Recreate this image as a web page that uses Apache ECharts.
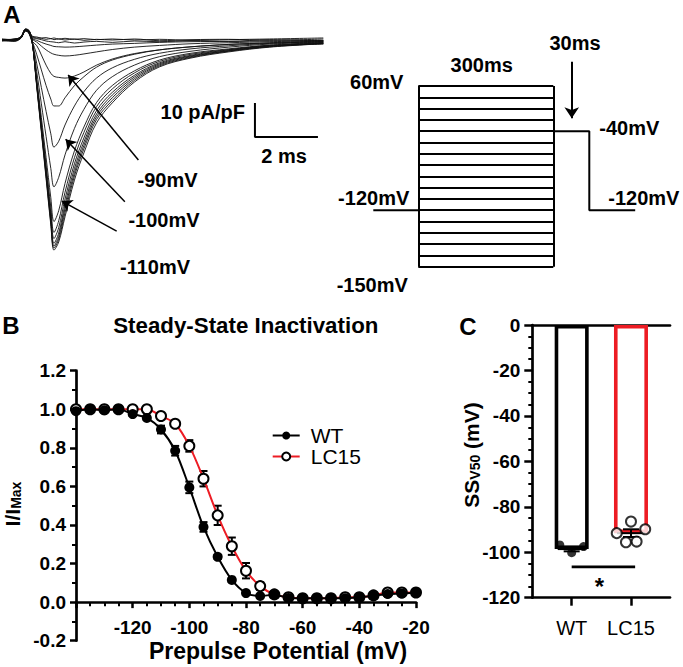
<!DOCTYPE html>
<html><head><meta charset="utf-8">
<script src="https://cdn.jsdelivr.net/npm/echarts@6/dist/echarts.min.js"></script>
<style>html,body{margin:0;padding:0;background:#fff}#c{width:683px;height:667px}</style>
</head><body><div id="c"></div><script>
// ---------- Panel A: current traces (pA/pF vs ms) ----------
const traceTimeMs = [0, 0.4, 0.6, 0.75, 0.85, 0.95, 1.1, 1.25, 1.4, 1.55, 1.65, 1.8, 2.0, 2.3, 2.6, 3.0, 3.5, 4.2, 5.0, 6.0, 7.2, 8.5, 10.2];
const trace01 = [0.2, -0.3, 0.9, 3.2, 2.9, 0.3, -13.6, -27.2, -40.8, -54.4, -61.8, -59.4, -52.0, -41.2, -33.2, -24.4, -18.5, -12.4, -7.9, -5.3, -3.5, -2.1, -1.1];
const trace02 = [0.0, 0.1, 0.8, 3.0, 2.7, 0.2, -13.2, -26.6, -40.2, -53.8, -61.2, -58.6, -50.8, -40.0, -32.0, -23.4, -17.8, -11.9, -7.6, -5.1, -3.3, -2.0, -1.0];
const trace03 = [-0.2, 0.3, 0.7, 3.1, 2.6, 0.1, -13.0, -26.3, -39.6, -53.0, -60.6, -57.8, -49.6, -39.0, -31.0, -22.6, -17.0, -11.4, -7.3, -4.9, -3.2, -1.9, -0.9];
const trace04 = [0.3, 0.1, 0.9, 2.9, 2.8, 0.0, -12.8, -25.9, -39.0, -52.2, -59.8, -56.8, -48.4, -37.8, -30.0, -21.8, -16.2, -10.9, -7.0, -4.7, -3.1, -1.8, -1.2];
const trace05 = [0.0, -0.2, 0.6, 3.0, 2.5, -0.1, -12.4, -25.2, -38.0, -50.9, -58.4, -55.2, -46.8, -36.4, -28.8, -20.8, -15.4, -10.4, -6.7, -4.5, -2.9, -1.7, -0.8];
const trace06 = [0.1, 0.2, 0.8, 3.1, 2.6, 0.0, -12.0, -24.4, -36.8, -49.2, -56.6, -53.2, -44.8, -34.6, -27.2, -19.6, -14.4, -9.7, -6.3, -4.2, -2.8, -1.6, -1.0];
const trace07 = [-0.1, -0.1, 0.7, 2.8, 2.4, -0.2, -11.2, -22.8, -34.6, -46.4, -53.4, -50.2, -42.2, -32.6, -25.6, -18.4, -13.4, -9.1, -5.9, -3.9, -2.6, -1.5, -0.7];
const trace08 = [0.2, 0.1, 0.8, 3.0, 2.2, -0.3, -9.2, -18.8, -28.4, -37.8, -43.2, -40.4, -33.8, -26.0, -20.4, -14.8, -10.8, -7.4, -4.9, -3.3, -2.1, -1.2, -0.6];
const trace09 = [0.0, 0.0, 0.6, 2.9, 2.3, -0.2, -6.8, -14.0, -21.0, -27.6, -31.5, -29.8, -25.0, -19.4, -15.2, -11.2, -8.2, -5.7, -3.9, -2.6, -1.7, -1.0, -0.5];
const trace10 = [0.1, 0.2, 0.8, 2.7, 2.1, -0.1, -4.2, -8.8, -13.4, -17.4, -19.4, -19.4, -17.0, -13.4, -10.8, -8.0, -5.9, -4.2, -2.9, -2.0, -1.3, -0.8, -0.3];
const trace11 = [0.0, -0.1, 0.7, 2.8, 2.0, -0.3, -1.6, -4.4, -7.4, -9.8, -10.7, -11.0, -11.2, -10.6, -9.4, -7.4, -5.6, -4.0, -2.9, -2.0, -1.3, -0.9, -0.4];
const trace12 = [0.1, 0.1, 0.8, 2.9, 2.2, 0.3, -0.6, -1.8, -2.9, -3.8, -4.2, -4.5, -4.7, -4.5, -4.1, -3.5, -2.8, -2.1, -1.6, -1.1, -0.8, -0.5, -0.2];
const trace13 = [-0.3, -0.2, 0.6, 2.7, 2.3, 0.5, -0.1, -0.7, -1.2, -1.6, -1.9, -2.0, -2.1, -2.0, -1.8, -1.5, -1.2, -1.0, -0.7, -0.5, -0.4, -0.3, -0.1];
const trace14 = [0.1, 0.3, 0.9, 3.1, 2.6, 0.8, 0.4, 0.1, -0.3, -0.5, -0.6, -0.8, -0.5, -0.9, -0.6, -0.4, -0.7, -0.3, -0.5, -0.2, -0.4, 0.1, -0.2];
const trace15 = [0.0, -0.4, 0.5, 2.6, 2.2, 1.0, 0.6, 0.5, 0.2, 0.4, 0.1, 0.3, 0.0, 0.3, -0.1, 0.2, 0.0, 0.3, -0.2, 0.1, 0.2, -0.1, 0.3];
const trace16 = [-0.2, 0.2, 1.0, 3.3, 2.8, 1.2, 0.9, 0.6, 0.7, 0.4, 0.6, 0.3, 0.5, 0.2, 0.4, 0.1, 0.3, 0.0, 0.2, -0.1, 0.1, 0.3, 0.6];
const scaleBarMs = 2;
const scaleBarPApF = 10;

// ---------- Panel A: voltage protocol (schematic units) ----------
const protocolTime = [0, 1, 4, 4.8, 5.82];      // holding start, prepulse start, prepulse end, test end, end
const prepulseSteps = [0, 1, 2, 3, 4, 5, 6, 7, 8, 9, 10, 11, 12, 13, 14, 15, 16];
const holdingStep = 11;
const testStep = 4;

// ---------- Panel B: steady-state inactivation ----------
const prepulseMv = [-140, -135, -130, -125, -120, -115, -110, -105, -100, -95, -90, -85, -80, -75, -70, -65, -60, -55, -50, -45, -40, -35, -30, -25, -20];
const wtMean = [0.99, 1.0, 0.995, 1.0, 0.975, 0.955, 0.895, 0.785, 0.595, 0.39, 0.235, 0.115, 0.047, 0.032, 0.038, 0.022, 0.02, 0.02, 0.02, 0.02, 0.025, 0.033, 0.042, 0.045, 0.05];
const wtSem = [0, 0, 0, 0, 0.01, 0.01, 0.02, 0.025, 0.03, 0.025, 0.01, 0.01, 0.005, 0, 0, 0, 0, 0, 0, 0, 0, 0, 0, 0, 0];
const lc15Mean = [1.0, 1.0, 1.0, 1.0, 1.0, 1.0, 0.965, 0.925, 0.81, 0.64, 0.45, 0.29, 0.163, 0.083, 0.04, 0.025, 0.02, 0.02, 0.02, 0.025, 0.025, 0.035, 0.05, 0.05, 0.05];
const lc15Sem = [0, 0, 0, 0, 0, 0, 0.01, 0.01, 0.03, 0.04, 0.05, 0.045, 0.04, 0.02, 0.01, 0, 0, 0, 0, 0, 0, 0, 0, 0, 0];

// ---------- Panel C: SS V50 ----------
const groups = ['WT', 'LC15'];
const groupMeans = [-98.6, -91.6];
const groupSems = [1.0, 1.7];
const wtCells = [-96.8, -100.2, -97.5];
const wtJitter = [-0.2, 0, 0.2];
const lc15Cells = [-86.5, -91.6, -89.9, -95.6, -95.3];
const lc15Jitter = [0, -0.24, 0.24, -0.085, 0.095];
const sigLevel = -106.4;

const FONT = '"Liberation Sans", Arial, Helvetica, sans-serif';
const RED = '#ed1c24';

const traces = [trace01, trace02, trace03, trace04, trace05, trace06, trace07, trace08, trace09, trace10, trace11, trace12, trace13, trace14, trace15, trace16];

const chart = echarts.init(document.getElementById('c'), null, {renderer: 'svg', width: 683, height: 667});

const traceSeries = traces.map((tr, k) => ({
  type: 'line', name: 'trace' + (k + 1), xAxisIndex: 0, yAxisIndex: 0,
  data: traceTimeMs.map((t, i) => [t, tr[i]]),
  smooth: 0.35, symbol: 'none', showSymbol: false, silent: true, z: 1,
  lineStyle: {color: '#111', width: 0.9}
}));

const sbX = 8.03, sbY = -28.5;
const arrowLine = (from, to) => [{coord: from, symbol: 'none'}, {coord: to, symbol: 'arrow', symbolSize: 10}];

const stepLines = prepulseSteps.map(s => [{coord: [protocolTime[1], s], symbol: 'none'}, {coord: [protocolTime[2], s], symbol: 'none'}]);
stepLines.push([{coord: [protocolTime[1], prepulseSteps[0]], symbol: 'none'}, {coord: [protocolTime[1], prepulseSteps[16]], symbol: 'none'}]);
stepLines.push([{coord: [protocolTime[2], prepulseSteps[0]], symbol: 'none'}, {coord: [protocolTime[2], prepulseSteps[16]], symbol: 'none'}]);
stepLines.push([{coord: [4.41, -2.15], symbol: 'none'}, {coord: [4.41, 2.86], symbol: 'arrow', symbolSize: 11}]);

function errRender(params, api) {
  const x = api.value(0), m = api.value(1), s = api.value(2);
  if (!s) return null;
  const t = api.coord([x, m + s]), b = api.coord([x, m - s]);
  const w = 4, st = {stroke: '#000', lineWidth: 2};
  return {type: 'group', children: [
    {type: 'line', shape: {x1: t[0], y1: t[1], x2: b[0], y2: b[1]}, style: st},
    {type: 'line', shape: {x1: t[0] - w, y1: t[1], x2: t[0] + w, y2: t[1]}, style: st},
    {type: 'line', shape: {x1: b[0] - w, y1: b[1], x2: b[0] + w, y2: b[1]}, style: st}
  ]};
}
function meanRender(params, api) {
  const x = api.value(0), m = api.value(1), s = api.value(2);
  const c = api.coord([x, m]), t = api.coord([x, m + s]), b = api.coord([x, m - s]);
  const st = {stroke: '#000', lineWidth: 2};
  return {type: 'group', children: [
    {type: 'line', shape: {x1: c[0] - 14, y1: c[1], x2: c[0] + 14, y2: c[1]}, style: st},
    {type: 'line', shape: {x1: c[0], y1: t[1], x2: c[0], y2: b[1]}, style: st},
    {type: 'line', shape: {x1: c[0] - 8, y1: t[1], x2: c[0] + 8, y2: t[1]}, style: st},
    {type: 'line', shape: {x1: c[0] - 8, y1: b[1], x2: c[0] + 8, y2: b[1]}, style: st}
  ]};
}

const tickLabel = {color: '#000', fontFamily: FONT, fontWeight: 'bold', fontSize: 19};

function txt(text, x, y, size, opts) {
  opts = opts || {};
  return {type: 'text', x: x, y: y, rotation: opts.rot || 0, silent: true,
    style: {text: text, fontFamily: FONT, fontWeight: opts.normal ? 'normal' : 'bold', fontSize: size, fill: '#000',
      align: opts.align || 'center', textAlign: opts.align || 'center', verticalAlign: 'middle', textVerticalAlign: 'middle',
      rich: opts.rich}};
}
const subRich = {
  m: {fontFamily: FONT, fontWeight: 'bold', fontSize: 21, lineHeight: 21, verticalAlign: 'top'},
  s: {fontFamily: FONT, fontWeight: 'bold', fontSize: 14, lineHeight: 14, padding: [11, 0, 0, 0], verticalAlign: 'bottom'}
};

const option = {
  animation: false,
  backgroundColor: '#fff',
  grid: [
    {left: 2, top: 19.6, width: 321.3, height: 238, outerBoundsMode: 'none', containLabel: false},
    {left: 373.3, top: 18.3, width: 261.9, height: 248.4, outerBoundsMode: 'none', containLabel: false},
    {left: 76, top: 370.7, width: 340, height: 270, outerBoundsMode: 'none', containLabel: false},
    {left: 532.3, top: 325, width: 137.7, height: 272.7, outerBoundsMode: 'none', containLabel: false}
  ],
  xAxis: [
    {gridIndex: 0, type: 'value', min: 0, max: 10.2, show: false},
    {gridIndex: 1, type: 'value', min: 0, max: 5.82, show: false},
    {gridIndex: 2, type: 'value', min: -140, max: -20, interval: 20,
      axisLine: {show: true, onZero: true, lineStyle: {color: '#000', width: 2.7}},
      axisTick: {show: true, length: 6, lineStyle: {color: '#000', width: 2.5}},
      minorTick: {show: true, splitNumber: 4, length: 4, lineStyle: {color: '#000', width: 2}},
      axisLabel: Object.assign({margin: -23, showMinLabel: false}, tickLabel),
      splitLine: {show: false}, minorSplitLine: {show: false}},
    {gridIndex: 3, type: 'value', position: 'bottom', min: 0.336, max: 2.658,
      axisLine: {show: true, onZero: false, lineStyle: {color: '#000', width: 2.7}},
      axisTick: {show: true, length: 8, customValues: [1, 2], lineStyle: {color: '#000', width: 2.5}},
      axisLabel: {customValues: [1, 2], formatter: v => groups[Math.round(v) - 1], margin: 20,
        color: '#000', fontFamily: FONT, fontSize: 20},
      splitLine: {show: false}},
    {gridIndex: 3, type: 'value', position: 'top', min: 0.336, max: 2.658,
      axisLine: {show: true, onZero: false, lineStyle: {color: '#000', width: 2.7}},
      axisTick: {show: false}, axisLabel: {show: false}, splitLine: {show: false}}
  ],
  yAxis: [
    {gridIndex: 0, type: 'value', min: -64, max: 6, show: false},
    {gridIndex: 1, type: 'value', min: -6, max: 16, inverse: true, show: false},
    {gridIndex: 2, type: 'value', min: -0.2, max: 1.2, interval: 0.2,
      axisLine: {show: true, onZero: false, lineStyle: {color: '#000', width: 2.7}},
      axisTick: {show: true, length: 6, lineStyle: {color: '#000', width: 2.5}},
      minorTick: {show: true, splitNumber: 2, length: 4, lineStyle: {color: '#000', width: 2}},
      axisLabel: Object.assign({margin: 10, formatter: v => v.toFixed(1)}, tickLabel),
      splitLine: {show: false}, minorSplitLine: {show: false}},
    {gridIndex: 3, type: 'value', min: -120, max: 0, interval: 20,
      axisLine: {show: true, onZero: false, lineStyle: {color: '#000', width: 2.7}},
      axisTick: {show: true, length: 8, lineStyle: {color: '#000', width: 2.5}},
      minorTick: {show: true, splitNumber: 4, length: 4, lineStyle: {color: '#000', width: 2}},
      axisLabel: Object.assign({margin: 12}, tickLabel),
      splitLine: {show: false}, minorSplitLine: {show: false}}
  ],
  legend: {
    show: true, left: 266.7, top: 420, orient: 'vertical', data: ['WT', 'LC15'],
    itemWidth: 27, itemHeight: 10, itemGap: 0, selectedMode: false,
    textStyle: {fontFamily: FONT, fontSize: 21, color: '#000', lineHeight: 20, padding: [0, 0, 0, 6]}
  },
  series: traceSeries.concat([
    {type: 'line', name: 'scalebar', xAxisIndex: 0, yAxisIndex: 0, symbol: 'none', silent: true, z: 3,
      data: [[sbX, sbY + scaleBarPApF], [sbX, sbY], [sbX + scaleBarMs, sbY]],
      lineStyle: {color: '#000', width: 2},
      markLine: {silent: true, symbol: ['none', 'none'], label: {show: false},
        lineStyle: {color: '#000', width: 1.5, type: 'solid'},
        data: [arrowLine([4.33, -35.3], [2.10, -10.3]), arrowLine([3.90, -47.6], [2.02, -29.2]), arrowLine([3.64, -56.2], [1.90, -47.4])]}},
    {type: 'line', name: 'holding', xAxisIndex: 1, yAxisIndex: 1, symbol: 'none', silent: true,
      data: [[protocolTime[0], holdingStep], [protocolTime[1], holdingStep]],
      lineStyle: {color: '#000', width: 2},
      markLine: {silent: true, symbol: ['none', 'none'], label: {show: false},
        lineStyle: {color: '#000', width: 2, type: 'solid'}, data: stepLines}},
    {type: 'line', name: 'test', xAxisIndex: 1, yAxisIndex: 1, symbol: 'none', silent: true,
      data: [[protocolTime[2], testStep], [protocolTime[3], testStep], [protocolTime[3], holdingStep], [protocolTime[4], holdingStep]],
      lineStyle: {color: '#000', width: 2}},
    {type: 'custom', name: 'wtErr', xAxisIndex: 2, yAxisIndex: 2, renderItem: errRender, z: 3, silent: true,
      encode: {x: 0, y: 1}, data: prepulseMv.map((v, i) => [v, wtMean[i], wtSem[i]])},
    {type: 'custom', name: 'lcErr', xAxisIndex: 2, yAxisIndex: 2, renderItem: errRender, z: 3, silent: true,
      encode: {x: 0, y: 1}, data: prepulseMv.map((v, i) => [v, lc15Mean[i], lc15Sem[i]])},
    {type: 'line', name: 'LC15', xAxisIndex: 2, yAxisIndex: 2, z: 4, smooth: 0.3,
      data: prepulseMv.map((v, i) => [v, lc15Mean[i]]),
      symbol: 'circle', symbolSize: 10, showAllSymbol: true,
      itemStyle: {color: '#fff', borderColor: '#000', borderWidth: 2},
      lineStyle: {color: RED, width: 2}},
    {type: 'line', name: 'WT', xAxisIndex: 2, yAxisIndex: 2, z: 5, smooth: 0.3,
      data: prepulseMv.map((v, i) => [v, wtMean[i]]),
      symbol: 'circle', symbolSize: 10, showAllSymbol: true,
      itemStyle: {color: '#000'}, lineStyle: {color: '#000', width: 2}},
    {type: 'bar', name: 'bars', xAxisIndex: 3, yAxisIndex: 3, barWidth: 34, z: 2, silent: true,
      data: groupMeans.map((m, i) => ({value: [i + 1, m],
        itemStyle: {color: '#fff', borderColor: i === 0 ? '#000' : RED, borderWidth: 3.6}}))},
    {type: 'custom', name: 'means', xAxisIndex: 3, yAxisIndex: 3, renderItem: meanRender, z: 3, silent: true,
      encode: {x: 0, y: 1}, data: groupMeans.map((m, i) => [i + 1, m, groupSems[i]])},
    {type: 'scatter', name: 'wtCells', xAxisIndex: 3, yAxisIndex: 3, z: 4, symbolSize: 9, silent: true,
      data: wtCells.map((v, i) => [1 + wtJitter[i], v]), itemStyle: {color: '#000'}},
    {type: 'scatter', name: 'lcCells', xAxisIndex: 3, yAxisIndex: 3, z: 4, symbolSize: 10, silent: true,
      data: lc15Cells.map((v, i) => [2 + lc15Jitter[i], v]),
      itemStyle: {color: '#fff', borderColor: '#000', borderWidth: 2}},
    {type: 'line', name: 'sig', xAxisIndex: 3, yAxisIndex: 3, symbol: 'none', silent: true,
      data: [[1, sigLevel], [2.07, sigLevel]], lineStyle: {color: '#000', width: 2.7}}
  ]),
  graphic: {elements: [
    txt('A', 12, 14, 24),
    txt('B', 11, 325, 24),
    txt('C', 468, 326, 24),
    txt('10 pA/pF', 245, 112, 20, {align: 'right'}),
    txt('2 ms', 284, 156, 20),
    txt('-90mV', 167.5, 180, 20),
    txt('-100mV', 164, 220, 20),
    txt('-110mV', 155, 267, 20),
    txt('60mV', 376.7, 81.7, 20),
    txt('300ms', 481.7, 65, 20),
    txt('30ms', 575, 43.3, 20),
    txt('-40mV', 599.3, 128.3, 20, {align: 'left'}),
    txt('-120mV', 373.7, 198.3, 20),
    txt('-120mV', 608.3, 198.3, 20, {align: 'left'}),
    txt('-150mV', 336.7, 285, 20, {align: 'left'}),
    txt('Steady-State Inactivation', 245.8, 325, 22.3),
    txt('Prepulse Potential (mV)', 278, 650.5, 23),
    txt('{m|I/I}{s|Max}', 12, 504, 21, {rot: Math.PI / 2, rich: subRich}),
    txt('{m|SS}{s|V50}{m| (mV)}', 471, 455, 21, {rot: Math.PI / 2, rich: subRich}),
    txt('*', 599.3, 586, 24)
  ]}
};
chart.setOption(option);
</script></body></html>
